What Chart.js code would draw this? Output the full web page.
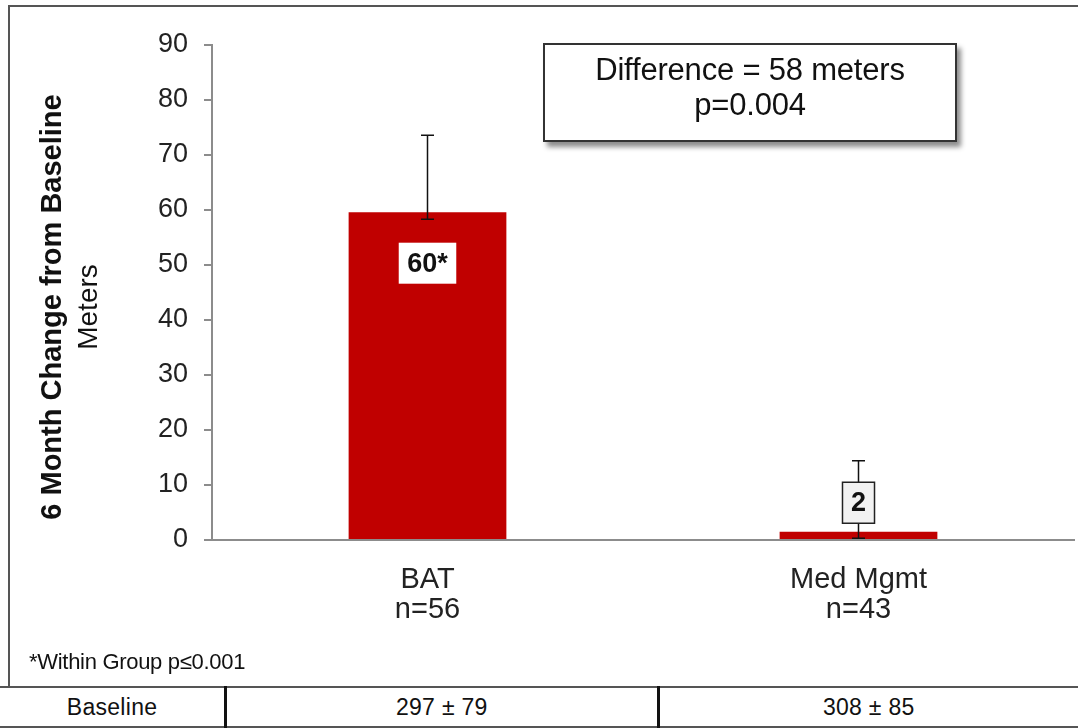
<!DOCTYPE html>
<html lang="en">
<head>
<meta charset="UTF-8">
<title>6 Month Change from Baseline</title>
<script src="https://cdn.jsdelivr.net/npm/chart.js"></script>
<style>
    body { margin: 0; background: #fff; }
    #wrap { position: relative; width: 1078px; height: 728px; overflow: hidden; font-family: "Liberation Sans", Arial, sans-serif; }
    #frame { position: absolute; left: 8px; top: 5px; width: 1080px; height: 682px; border-left: 2px solid #555; border-top: 2px solid #555; box-sizing: border-box; }
    #diffBox { position: absolute; left: 543px; top: 43px; width: 414px; height: 99px; border: 2px solid #333; box-sizing: border-box;
        box-shadow: 4px 5px 5px rgba(0,0,0,0.45); background: #fff; text-align: center; font-size: 31px; line-height: 35px; padding-top: 7px; color: #111; letter-spacing: -0.2px; }
    #note { position: absolute; left: 29px; top: 649px; font-size: 22px; line-height: 25px; color: #111; letter-spacing: -0.3px; }
    #baseTable { position: absolute; left: 0; top: 686px; width: 1078px; height: 42px; border-collapse: collapse;
        font-size: 23px; color: #111; letter-spacing: 0.3px; }
    #baseTable td { border-top: 2px solid #555; border-bottom: 2px solid #555; text-align: center; padding: 0; }
    #baseTable td + td { border-left: 3px solid #111; }
    canvas { position: absolute; left: 0; top: 0; }
</style>
</head>
<body>
<div id="wrap">
    <div id="frame"></div>
    <canvas id="changeChart" width="1078" height="686"></canvas>
    <div id="diffBox">Difference = 58 meters<br>p=0.004</div>
    <div id="note">*Within Group p≤0.001</div>
    <table id="baseTable"><tr id="baseRow"></tr></table>
</div>

<script>
    // valors llegits del gràfic
    const categories = [['BAT', 'n=56'], ['Med Mgmt', 'n=43']];
    const changeValues = [59.6, 1.5];
    const errorHigh = [73.6, 14.4];
    const errorLow = [58.3, 0.3];
    const valueLabels = ['60*', '2'];
    const baselineRow = ['Baseline', '297 ± 79', '308 ± 85'];
    const colWidths = [225, 432, 421];

    // fila de la taula
    const row = document.getElementById('baseRow');
    baselineRow.forEach((txt, i) => {
        const td = document.createElement('td');
        td.textContent = txt;
        td.style.width = colWidths[i] + 'px';
        row.appendChild(td);
    });

    // barres d'error, etiquetes i títol de l'eix
    const extras = {
        id: 'extras',
        afterDatasetsDraw(chart) {
            const ctx = chart.ctx;
            const y = chart.scales.y;
            const bars = chart.getDatasetMeta(0).data;
            ctx.save();
            bars.forEach((bar, i) => {
                const x = bar.x;
                const top = y.getPixelForValue(errorHigh[i]);
                const low = y.getPixelForValue(errorLow[i]);
                ctx.strokeStyle = '#111';
                ctx.lineWidth = 1.5;
                ctx.beginPath();
                ctx.moveTo(x, top); ctx.lineTo(x, low);
                ctx.moveTo(x - 6.5, top); ctx.lineTo(x + 6.5, top);
                ctx.moveTo(x - 6.5, low); ctx.lineTo(x + 6.5, low);
                ctx.stroke();

                // etiqueta de valor
                ctx.font = 'bold 27px "Liberation Sans", Arial';
                const w = ctx.measureText(valueLabels[i]).width + 17;
                const h = 41;
                const barH = bar.base - bar.y;
                let cy, fill, border;
                if (barH > 60) {
                    cy = bar.y + 51; fill = '#fff'; border = null;
                } else {
                    cy = bar.y - 29; fill = '#f2f2f2'; border = '#222';
                }
                ctx.fillStyle = fill;
                ctx.fillRect(x - w / 2, cy - h / 2, w, h);
                if (border) {
                    ctx.strokeStyle = border;
                    ctx.lineWidth = 1.5;
                    ctx.strokeRect(x - w / 2, cy - h / 2, w, h);
                }
                ctx.fillStyle = '#111';
                ctx.textAlign = 'center';
                ctx.textBaseline = 'middle';
                ctx.fillText(valueLabels[i], x, cy + 1);
            });

            // títol de l'eix Y
            ctx.translate(53, 307);
            ctx.rotate(-Math.PI / 2);
            ctx.textAlign = 'center';
            ctx.textBaseline = 'middle';
            ctx.fillStyle = '#111';
            ctx.font = 'bold 29px "Liberation Sans", Arial';
            ctx.fillText('6 Month Change from Baseline', 0, 0);
            ctx.font = '28px "Liberation Sans", Arial';
            ctx.fillText('Meters', 0, 36);
            ctx.restore();
        }
    };

    new Chart(document.getElementById('changeChart'), {
        type: 'bar',
        data: {
            labels: categories,
            datasets: [{
                data: changeValues,
                backgroundColor: '#C00000',
                borderWidth: 0,
                categoryPercentage: 1,
                barPercentage: 0.366
            }]
        },
        options: {
            responsive: false,
            animation: false,
            layout: { padding: { top: 45, right: 4, left: 0, bottom: 0 } },
            plugins: { legend: { display: false }, tooltip: { enabled: false } },
            scales: {
                x: {
                    afterFit: s => { s.height = 146; },
                    grid: { display: false },
                    border: { color: '#8c8c8c', width: 2 },
                    ticks: { color: '#222', font: { size: 29, family: '"Liberation Sans", Arial', lineHeight: 1.03 }, padding: 17 }
                },
                y: {
                    min: 0, max: 90,
                    afterFit: s => { s.width = 212; },
                    grid: { drawOnChartArea: false, tickLength: 8, color: '#8c8c8c', lineWidth: 2 },
                    border: { color: '#8c8c8c', width: 2 },
                    ticks: { stepSize: 10, color: '#222', padding: 16, font: { size: 27, family: '"Liberation Sans", Arial' } }
                }
            }
        },
        plugins: [extras]
    });
</script>
</body>
</html>
